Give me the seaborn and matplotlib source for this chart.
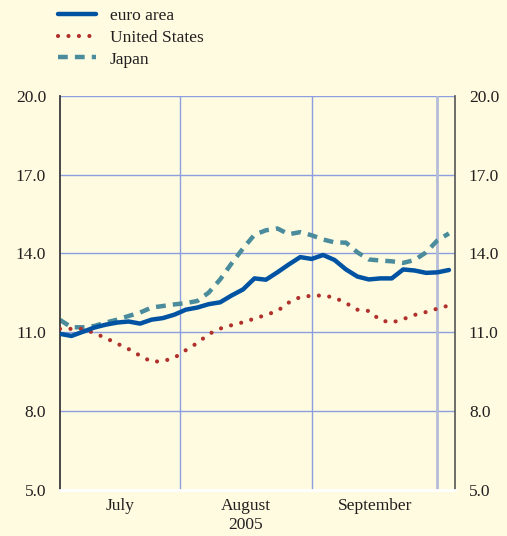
import numpy as np
import pandas as pd
import matplotlib
matplotlib.use("Agg")
import matplotlib.pyplot as plt
import seaborn as sns

# business days from 1 July 2005, sampled every 2 days
days = list(range(0, 69, 2))
euro_area = [10.94, 10.86, 11.02, 11.18, 11.29, 11.37, 11.41, 11.33, 11.48, 11.54,
             11.67, 11.86, 11.94, 12.07, 12.14, 12.40, 12.63, 13.05, 13.00, 13.28,
             13.58, 13.86, 13.79, 13.94, 13.75, 13.39, 13.12, 13.01, 13.05, 13.05,
             13.39, 13.35, 13.26, 13.28, 13.37]
united_states = [11.13, 11.13, 11.13, 10.97, 10.78, 10.57, 10.36, 10.11, 9.88, 9.90,
                 10.03, 10.32, 10.59, 10.93, 11.14, 11.27, 11.38, 11.52, 11.66, 11.81,
                 12.13, 12.34, 12.39, 12.40, 12.32, 12.11, 11.86, 11.81, 11.46, 11.37,
                 11.50, 11.66, 11.77, 11.90, 12.02]
japan = [11.47, 11.19, 11.19, 11.24, 11.37, 11.48, 11.62, 11.75, 11.94, 12.00,
         12.06, 12.11, 12.19, 12.51, 13.01, 13.62, 14.19, 14.71, 14.88, 14.95,
         14.73, 14.81, 14.69, 14.53, 14.42, 14.41, 14.04, 13.77, 13.73, 13.70,
         13.64, 13.75, 14.04, 14.50, 14.76]

month_starts = [0, 21, 44, 66]
month_labels = ["July", "August\n2005", "September"]
y_ticks = [5.0, 8.0, 11.0, 14.0, 17.0, 20.0]

df = pd.DataFrame({"day": days, "euro area": euro_area,
                   "United States": united_states, "Japan": japan})

bg = "#fefbe0"
grid_col = "#8c9ee0"
text_col = "#231f20"

sns.set_style("white")
plt.rcParams["font.family"] = ["Liberation Serif", "DejaVu Serif"]
plt.rcParams["text.color"] = text_col

fig = plt.figure(figsize=(5.07, 5.36), dpi=100, facecolor=bg)
ax = fig.add_axes([60 / 507, 1 - 490 / 536, 395 / 507, (490 - 95.7) / 536])
ax.set_facecolor(bg)

# grid lines
for v in y_ticks[1:]:
    ax.axhline(v, color=grid_col, lw=1.0, zorder=1)
for m in month_starts[1:3]:
    ax.axvline(m, color=grid_col, lw=1.0, zorder=1)
ax.axvline(month_starts[3], color="#b4bcd6", lw=2.0, zorder=1)

sns.lineplot(data=df, x="day", y="euro area", ax=ax, color="#0052a3",
             lw=3.2, label="euro area", zorder=4)
sns.lineplot(data=df, x="day", y="United States", ax=ax, color="#b0302c",
             lw=3.0, label="United States", zorder=3)
sns.lineplot(data=df, x="day", y="Japan", ax=ax, color="#4a8b9c",
             lw=3.2, label="Japan", zorder=2)
lines = ax.get_lines()[-3:]
lines[1].set_linestyle((0, (0.01, 2.5)))
lines[1].set_dash_capstyle("round")
lines[2].set_linestyle((0, (2.2, 1.6)))

ax.set_xlim(0, 69.06)
ax.set_ylim(5.0, 20.0)
ax.set_xlabel("")
ax.set_ylabel("")

ax.set_yticks(y_ticks)
ax.set_yticklabels([f"{v:.1f}" for v in y_ticks])
ax.tick_params(axis="y", length=0, labelsize=12.5, labelcolor=text_col,
               labelleft=True, labelright=True, pad=10)

ax.set_xticks(month_starts)
ax.set_xticklabels([])
ax.set_xticks([10.5, 32.5, 55.0], minor=True)
ax.set_xticklabels(month_labels, minor=True)
ax.tick_params(axis="x", which="major", length=4, width=1, color="#333333",
               direction="out")
ax.tick_params(axis="x", which="minor", length=0, labelsize=12.5,
               labelcolor=text_col, pad=6)
for lab in ax.get_xticklabels(minor=True):
    lab.set_linespacing(1.25)

ax.spines["top"].set_visible(False)
ax.spines["left"].set_color("#3a3a3a")
ax.spines["left"].set_linewidth(1.3)
ax.spines["right"].set_color("#555555")
ax.spines["right"].set_linewidth(1.2)
ax.spines["bottom"].set_color("white")
ax.spines["bottom"].set_linewidth(2.0)

ax.legend_.remove()
fig.legend(handles=lines, labels=["euro area", "United States", "Japan"],
           loc="upper left", bbox_to_anchor=(58 / 507, 1 - 8 / 536),
           frameon=False, fontsize=12.5, handlelength=2.2, handletextpad=0.8,
           labelspacing=0.32, borderpad=0, borderaxespad=0)

fig.savefig("out.png", dpi=100, facecolor=bg)
